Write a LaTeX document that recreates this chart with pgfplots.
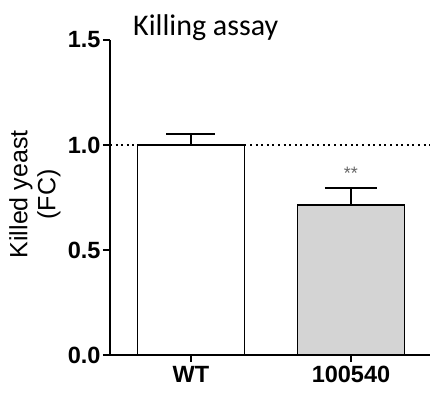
\documentclass[border=0pt]{standalone}
\usepackage{fontspec}
\setmainfont{Liberation Sans}
\newfontfamily\calibri{Carlito}
\usepackage{pgfplots}
\pgfplotsset{compat=1.18}
\definecolor{bargray}{RGB}{212,212,212}
\begin{document}
\begin{tikzpicture}
\begin{axis}[
  scale only axis,
  width=320pt, height=315pt,
  xmin=-0.506, xmax=1.494,
  ymin=0, ymax=1.5,
  axis x line=bottom, axis y line=left,
  axis line style={-, line width=1.4pt},
  xtick={0,1}, xticklabels={WT,100540},
  ytick={0,0.5,1,1.5},
  yticklabel style={/pgf/number format/fixed, /pgf/number format/fixed zerofill, /pgf/number format/precision=1},
  /pgf/number format/assume math mode=true,
  tick label style={font=\fontsize{23.5}{26}\selectfont\bfseries},
  tick style={line width=1.4pt, black},
  tick align=outside,
  major tick length=7pt,
  xticklabel style={yshift=-1pt},
  yticklabel style={xshift=1pt},
  clip=false,
]
\addplot[ybar, bar width=107pt, fill=white, draw=black, line width=1.2pt,
  error bars/.cd, y dir=plus, y explicit,
  error bar style={line width=1.2pt, black},
  error mark options={rotate=90, mark size=24.5pt, line width=1.2pt}]
  coordinates {(0,1.0) +- (0,0.052)};
\addplot[ybar, bar width=107pt, fill=bargray, draw=black, line width=1.2pt,
  error bars/.cd, y dir=plus, y explicit,
  error bar style={line width=1.2pt, black},
  error mark options={rotate=90, mark size=26pt, line width=1.2pt}]
  coordinates {(1,0.714) +- (0,0.081)};
\addplot[black, line width=2pt, dash pattern=on 2pt off 3.6pt] coordinates {(-0.506,1) (1.494,1)};
\node[font=\fontsize{18}{18}\selectfont, text=black!60] at (axis cs:1,0.865) {**};
\node[anchor=base west, font=\calibri\fontsize{30}{32}\selectfont, inner sep=0pt] at ([yshift=4pt]rel axis cs:0.072,1) {Killing assay};
\node[rotate=90, align=center, font=\fontsize{25}{28}\selectfont, inner sep=0pt] at ([xshift=-75pt]rel axis cs:0,0.51) {Killed yeast\\(FC)};
\end{axis}
\pgfresetboundingbox
\useasboundingbox (-110pt,-39pt) rectangle (320pt,355pt);
\end{tikzpicture}
\end{document}
